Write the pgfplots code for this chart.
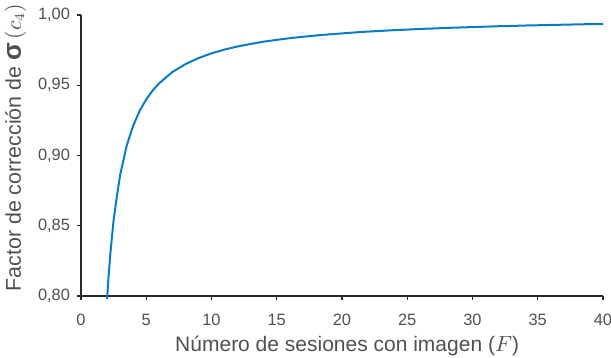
\documentclass[border=0pt]{standalone}
\usepackage{fontspec}
\setmainfont{Liberation Sans}
\usepackage{pgfplots}
\pgfplotsset{compat=1.18}
\definecolor{txtgray}{RGB}{80,80,80}
\definecolor{axgray}{RGB}{40,40,40}
\definecolor{lineblue}{RGB}{10,124,196}
\begin{document}
\begin{tikzpicture}
\useasboundingbox (0,0) rectangle (305.5pt,179pt);
\begin{axis}[
  at={(40.5pt,31pt)}, anchor=south west,
  scale only axis, width=261pt, height=140.5pt,
  xmin=0, xmax=40, ymin=0.80, ymax=1.00,
  axis x line*=bottom, axis y line*=left,
  axis line style={axgray, line width=0.6pt},
  every tick/.style={axgray, line width=0.6pt},
  tick align=outside, major tick length=2pt,
  xtick={0,5,...,40}, ytick={0.80,0.85,...,1.001},
  /pgf/number format/assume math mode=true,
  /pgf/number format/use comma,
  yticklabel style={/pgf/number format/fixed, /pgf/number format/fixed zerofill, /pgf/number format/precision=2, font=\fontsize{8.2}{9}\selectfont, text=txtgray},
  xticklabel style={font=\fontsize{8.2}{9}\selectfont, text=txtgray, yshift=-3.5pt},
  xlabel={Número de sesiones con imagen ($F$)},
  ylabel={Factor de corrección de {\fontsize{13}{13}\selectfont\bfseries σ}$\,(c_4)$},
  xlabel style={font=\fontsize{10.5}{12}\selectfont, text=txtgray, inner sep=0pt, anchor=north, at={(axis description cs:0.51,-0.14)}},
  ylabel style={font=\fontsize{10.7}{12}\selectfont, text=txtgray, inner sep=0pt, rotate=0, anchor=south, at={(axis description cs:-0.104,0.528)}},
  clip=false,
]
\addplot[lineblue, line width=1pt] coordinates {
(2,0.7979) (2.1,0.8122) (2.25,0.8304) (2.5,0.8541) (2.75,0.8709) (3,0.8862)
(3.5,0.9069) (4,0.9213) (4.5,0.9319) (5,0.9400) (5.5,0.9464) (6,0.9515)
(7,0.9594) (8,0.9650) (9,0.9693) (10,0.9727) (11,0.9754) (12,0.9776)
(13,0.9794) (14,0.9810) (15,0.9823) (16,0.9835) (17,0.9845) (18,0.9854)
(19,0.9862) (20,0.9869) (21,0.9876) (22,0.9882) (23,0.9887) (24,0.9892)
(25,0.9896) (26,0.9901) (27,0.9904) (28,0.9908) (29,0.9911) (30,0.9914)
(31,0.9917) (32,0.9920) (33,0.9922) (34,0.9925) (35,0.9927) (36,0.9929)
(37,0.9931) (38,0.9933) (39,0.9935) (40,0.9936)
};
\end{axis}
\end{tikzpicture}
\end{document}
